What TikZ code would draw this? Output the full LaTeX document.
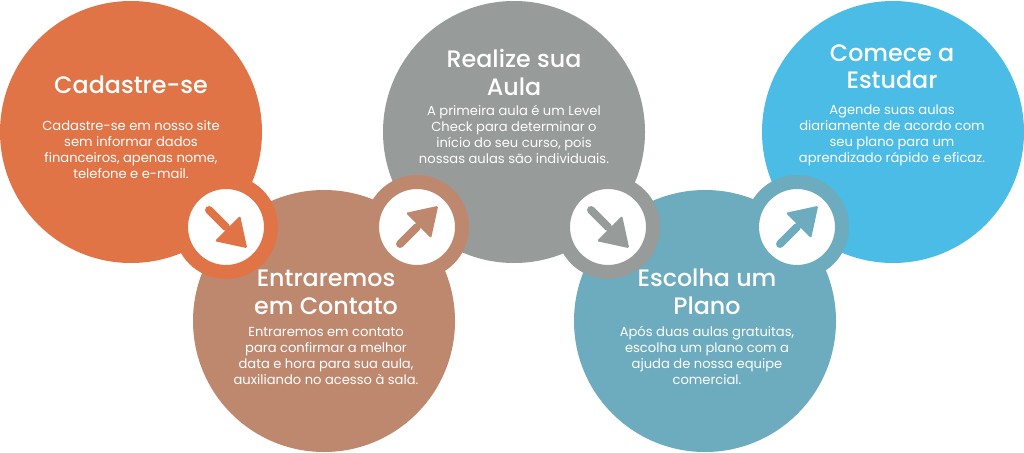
\documentclass[tikz,border=0pt]{standalone}
\usepackage{fontspec}
\setmainfont{Poppins}
\newfontfamily\titlefont{Poppins Medium}
\definecolor{corange}{HTML}{E07446}
\definecolor{cbrown}{HTML}{BE886F}
\definecolor{cgray}{HTML}{979B99}
\definecolor{cteal}{HTML}{6CACBE}
\definecolor{cblue}{HTML}{4ABCE5}
\tikzset{
  bigcirc/.style={circle, minimum size=262pt, inner sep=0pt, draw=none},
  ringcirc/.style={circle, minimum size=90pt, inner sep=0pt, line width=14pt, fill=white},
  ttl/.style={text=white, inner sep=0pt, anchor=base, font=\titlefont\fontsize{23.8}{28}\selectfont},
  bodytxt/.style={text=white, inner sep=0pt, anchor=base, font=\fontsize{13.1}{16}\selectfont},
  shaft/.style={line width=8pt, line cap=round},
  headtri/.style={rounded corners=1.5pt},
}
\newcommand{\mylines}[1]{\begin{tabular}[t]{@{}c@{}}#1\end{tabular}}
\newcommand{\myarrow}[3]{%
  \begin{scope}[shift={(#1.center)}, rotate=#2]
    \draw[shaft, draw=#3] (-24,0) -- (0,0);
    \fill[headtri, fill=#3] (30,0) -- (2,18) -- (2,-18) -- cycle;
  \end{scope}}
\begin{document}
\begin{tikzpicture}[x=1pt, y=-1pt]
\useasboundingbox[fill=white] (0,0) rectangle (1024,452);
% big circles
\node[bigcirc, fill=corange] (c1) at (131,132) {};
\node[bigcirc, fill=cbrown]  (c2) at (324,321) {};
\node[bigcirc, fill=cgray]   (c3) at (514,132) {};
\node[bigcirc, fill=cteal]   (c4) at (705,321) {};
\node[bigcirc, fill=cblue]   (c5) at (893,132) {};
% rings
\node[ringcirc, draw=corange] (r1) at (226,227) {};
\node[ringcirc, draw=cbrown]  (r2) at (417,227) {};
\node[ringcirc, draw=cgray]   (r3) at (608,227) {};
\node[ringcirc, draw=cteal]   (r4) at (797,227) {};
\myarrow{r1}{-45}{corange}
\myarrow{r2}{45}{cbrown}
\myarrow{r3}{-45}{cgray}
\myarrow{r4}{45}{cteal}
% texts
\node[ttl] (t1) at (131,93) {\mylines{Cadastre-se}};
\node[bodytxt] (b1) at (131,130) {\mylines{Cadastre-se em nosso site\\sem informar dados\\financeiros, apenas nome,\\telefone e e-mail.}};
\node[ttl] (t2) at (326,286) {\mylines{Entraremos\\em Contato}};
\node[bodytxt] (b2) at (326,336) {\mylines{Entraremos em contato\\para confirmar a melhor\\data e hora para sua aula,\\auxiliando no acesso à sala.}};
\node[ttl] (t3) at (514,67) {\mylines{Realize sua\\Aula}};
\node[bodytxt] (b3) at (514,115) {\mylines{A primeira aula é um Level\\Check para determinar o\\início do seu curso, pois\\nossas aulas são individuais.}};
\node[ttl] (t4) at (707,286) {\mylines{Escolha um\\Plano}};
\node[bodytxt] (b4) at (707,336) {\mylines{Após duas aulas gratuitas,\\escolha um plano com a\\ajuda de nossa equipe\\comercial.}};
\node[ttl] (t5) at (892,61) {\mylines{Comece a\\Estudar}};
\node[bodytxt] (b5) at (892,114) {\mylines{Agende suas aulas\\diariamente de acordo com\\seu plano para um\\aprendizado rápido e eficaz.}};
\end{tikzpicture}
\end{document}
